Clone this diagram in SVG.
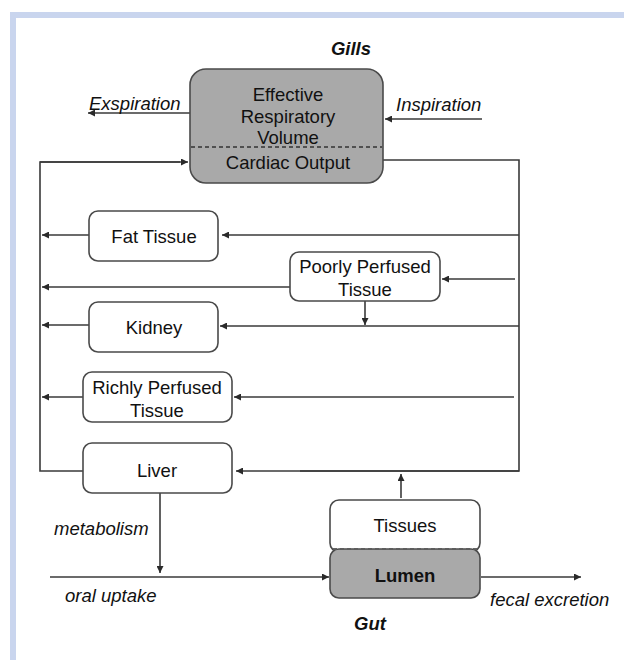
<svg xmlns="http://www.w3.org/2000/svg" width="624" height="660" viewBox="0 0 624 660">
<defs>
<marker id="ah" markerUnits="userSpaceOnUse" markerWidth="8" markerHeight="7" refX="7" refY="3.5" orient="auto">
<path d="M0,0 L7,3.5 L0,7 z" fill="#2a2a2a"/>
</marker>
<style>
.box{fill:#fff;stroke:#4a4a4a;stroke-width:1.6}
.grey{fill:#a9a9a9;stroke:#4a4a4a;stroke-width:1.6}
.dash{stroke:#333;stroke-width:1.3;stroke-dasharray:4,3;fill:none}
.ln{fill:none;stroke:#3a3a3a;stroke-width:1.6}
.arr{fill:none;stroke:#3a3a3a;stroke-width:1.6;marker-end:url(#ah)}
text{font-family:"Liberation Sans",Arial,sans-serif;font-size:18.5px;fill:#111}
.c{text-anchor:middle}
.it{font-style:italic}
.bi{font-style:italic;font-weight:bold}
</style>
</defs>
<rect x="0" y="0" width="624" height="660" fill="#fff"/>
<rect x="10" y="12" width="614" height="6" fill="#c9d5ee"/>
<rect x="10" y="12" width="6" height="648" fill="#c9d5ee"/>

<g id="connectors">
<path class="arr" d="M190,113 H88"/>
<path class="arr" d="M482,119 H385"/>
<path class="ln" d="M83,471 H40 V162 H180"/>
<path class="arr" d="M40,162 H188"/>
<path class="ln" d="M383,160 H519 V471 H300"/>
<path class="arr" d="M519,471 H236"/>
<path class="arr" d="M519,235 H222"/>
<path class="arr" d="M89,235 H42"/>
<path class="arr" d="M515,279 H442"/>
<path class="arr" d="M290,287 H42"/>
<path class="arr" d="M365,301 V325"/>
<path class="arr" d="M519,326 H220"/>
<path class="arr" d="M89,325 H42"/>
<path class="arr" d="M514,397 H234"/>
<path class="arr" d="M83,397 H42"/>
<path class="arr" d="M160,493 V573"/>
<path class="arr" d="M50,577 H329"/>
<path class="arr" d="M481,577 H581"/>
<path class="arr" d="M401,498 V474"/>
</g>

<g id="gills">
<rect class="grey" x="190" y="69" width="193" height="114" rx="16"/>
<line class="dash" x1="191" y1="147" x2="382" y2="147"/>
<text class="c" x="288" y="101">Effective</text>
<text class="c" x="288" y="123">Respiratory</text>
<text class="c" x="288" y="144">Volume</text>
<text class="c" x="288" y="169">Cardiac Output</text>
</g>
<g id="gills-label"><text class="c bi" x="351" y="55">Gills</text></g>
<g id="exspiration"><text class="it" x="89" y="110">Exspiration</text></g>
<g id="inspiration"><text class="it" x="396" y="111">Inspiration</text></g>

<g id="fat">
<rect class="box" x="89" y="211" width="129" height="50" rx="9"/>
<text class="c" x="154" y="243">Fat Tissue</text>
</g>
<g id="poorly">
<rect class="box" x="290" y="252" width="150" height="49" rx="9"/>
<text class="c" x="365" y="273">Poorly Perfused</text>
<text class="c" x="365" y="296">Tissue</text>
</g>
<g id="kidney">
<rect class="box" x="89" y="302" width="129" height="50" rx="9"/>
<text class="c" x="154" y="334">Kidney</text>
</g>
<g id="richly">
<rect class="box" x="83" y="372" width="149" height="50" rx="9"/>
<text class="c" x="157" y="394">Richly Perfused</text>
<text class="c" x="157" y="417">Tissue</text>
</g>
<g id="liver">
<rect class="box" x="83" y="443" width="149" height="50" rx="9"/>
<text class="c" x="157" y="477">Liver</text>
</g>
<g id="metabolism"><text class="it" x="54" y="535">metabolism</text></g>
<g id="oral"><text class="it" x="65" y="602">oral uptake</text></g>

<g id="gut">
<rect class="box" x="330" y="500" width="150" height="52" rx="9"/>
<rect class="grey" x="330" y="549" width="150" height="49" rx="9"/>
<line class="dash" x1="333" y1="549" x2="477" y2="549" style="stroke:#fff"/>
<line class="dash" x1="333" y1="549" x2="477" y2="549"/>
<text class="c" x="405" y="532">Tissues</text>
<text class="c" x="405" y="582" font-weight="bold">Lumen</text>
</g>
<g id="fecal"><text class="it" x="490" y="606">fecal excretion</text></g>
<g id="gut-label"><text class="c bi" x="370" y="630">Gut</text></g>
</svg>
